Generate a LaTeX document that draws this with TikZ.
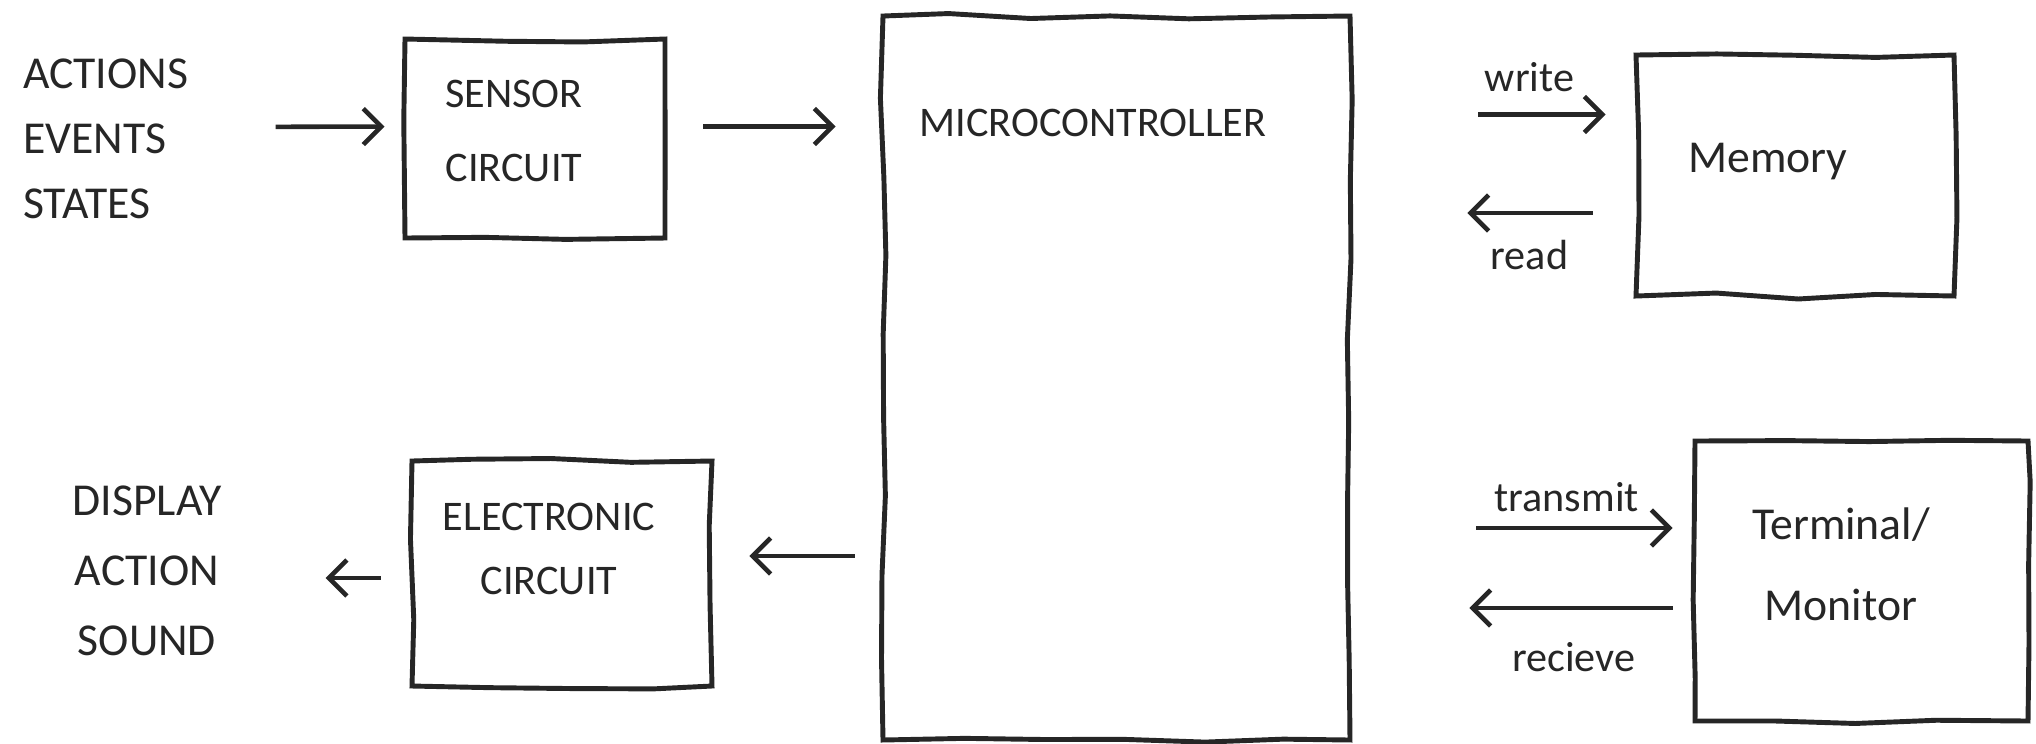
\documentclass[tikz,border=0pt]{standalone}
\usepackage{fontspec}
\setmainfont{Carlito}
\usetikzlibrary{arrows.meta,positioning,decorations.pathmorphing}
\definecolor{inkc}{HTML}{262626}

\begin{document}
\begin{tikzpicture}[
  x=0.1mm, y=-0.1mm,
  box/.style={draw=inkc, line width=1.4pt, inner sep=0pt,
    decorate, decoration={random steps, segment length=8mm, amplitude=0.3mm}},
  txt/.style={text=inkc, inner sep=0pt, align=center, font=\fontsize{13}{18.5}\selectfont},
  tag/.style={text=inkc, inner sep=0pt, font=\fontsize{12}{14}\selectfont},
  arrow/.style={draw=inkc, line width=1.3pt, -{Straight Barb[length=1.8mm, width=3.6mm]}}
]
\pgfmathsetseed{7}
\useasboundingbox (0,0) rectangle (2036,743);

% inputs, sensor and the controller
\node[txt, align=left, text width=17.2mm] (inputs) at (109,139) {ACTIONS\\EVENTS\\STATES};
\node[box, minimum width=26mm, minimum height=19.9mm] (sensor) at (535,138.5) {};
\node[txt, font=\fontsize{12}{21}\selectfont] (sensortext) at (514,131) {SENSOR\\CIRCUIT};
\node[box, minimum width=46.7mm, minimum height=72.4mm] (mcu) at (1116.5,378) {};
\node[txt, font=\fontsize{12}{14}\selectfont] (mcutext) at (1093,123) {MICROCONTROLLER};

% memory and terminal
\node[box, minimum width=31.8mm, minimum height=24.1mm] (memory) at (1795,175.5) {};
\node[txt] (memorytext) at (1768,162) {Memory};
\node[box, minimum width=33.3mm, minimum height=28mm] (terminal) at (1861.5,581) {};
\node[txt, font=\fontsize{13}{23}\selectfont] (terminaltext) at (1841,564) {Terminal/\\Monitor};

% outputs
\node[box, minimum width=30mm, minimum height=22.5mm] (elec) at (562,573.5) {};
\node[txt, font=\fontsize{12}{18}\selectfont] (electext) at (549,549) {ELECTRONIC\\CIRCUIT};
\node[txt, text width=16mm, font=\fontsize{13}{20}\selectfont] (outputs) at (147,571) {DISPLAY\\ACTION\\SOUND};

\draw[arrow, shorten <=8mm, shorten >=1.8mm] ([yshift=1.2mm]inputs.east) -- ([yshift=1.2mm]sensor.west);
\draw[arrow, shorten <=3.6mm, shorten >=4.5mm] ([yshift=1.2mm]sensor.east) -- ([yshift=1.2mm]sensor.east -| mcu.west);

\draw[arrow, shorten <=12.6mm, shorten >=2.8mm] ([yshift=6.1mm]memory.west -| mcu.east) -- ([yshift=6.1mm]memory.west)
  node[tag, pos=0.63, above=2mm] (writelbl) {write};
\draw[arrow, shorten <=4.1mm, shorten >=11.5mm] ([yshift=-3.75mm]memory.west) -- ([yshift=-3.75mm]memory.west -| mcu.east)
  node[tag, pos=0.37, below=2.5mm] (readlbl) {read};

\draw[arrow, shorten <=12.4mm, shorten >=2mm] ([yshift=5.3mm]terminal.west -| mcu.east) -- ([yshift=5.3mm]terminal.west)
  node[tag, pos=0.63, above=1.4mm] (txlbl) {transmit};
\draw[arrow, shorten <=2mm, shorten >=11.7mm] ([yshift=-2.7mm]terminal.west) -- ([yshift=-2.7mm]terminal.west -| mcu.east)
  node[tag, pos=0.35, below=3.2mm] (rxlbl) {recieve};

\draw[arrow, shorten <=2.6mm, shorten >=3.5mm] ([yshift=1.75mm]elec.east -| mcu.west) -- ([yshift=1.75mm]elec.east);
\draw[arrow, shorten <=2.9mm, shorten >=9.8mm] ([yshift=-0.45mm]elec.west) -- ([yshift=-0.45mm]elec.west -| outputs.east);
\end{tikzpicture}
\end{document}
